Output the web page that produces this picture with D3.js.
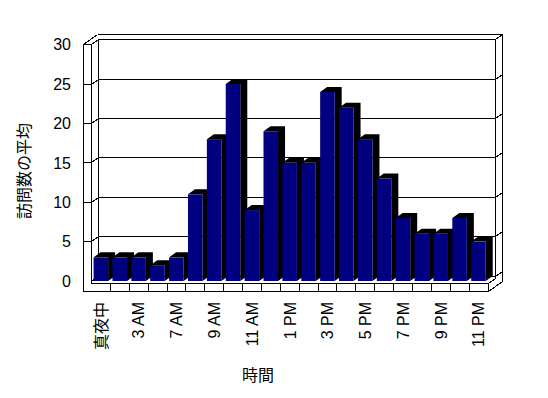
<!DOCTYPE html>
<html>
<head>
<meta charset="utf-8">
<script src="https://cdn.jsdelivr.net/npm/d3@7"></script>
<style>
body { margin: 0; background: #fff; }
svg text { font-family: "Liberation Sans", Arial, "Noto Sans CJK JP", sans-serif; fill: #000; }
</style>
</head>
<body>
<svg width="548" height="398"></svg>
<script>
// hours (some hidden labels are guesses; only every other one is printed)
var hours = ["真夜中", "2 AM", "3 AM", "5 AM", "7 AM", "8 AM", "9 AM", "10 AM", "11 AM", "正午",
    "1 PM", "2 PM", "3 PM", "4 PM", "5 PM", "6 PM", "7 PM", "8 PM", "9 PM", "10 PM", "11 PM"];
var visits = [3, 3, 3, 2, 3, 11, 18, 25, 9, 19, 15, 15, 24, 22, 18, 13, 8, 6, 6, 8, 5];
var yTicks = [0, 5, 10, 15, 20, 25, 30];
var yTitle = "訪問数の平均";
var xTitle = "時間";

var svg = d3.select("svg");
var dx = 7, dy = -5;               // depth offset
var wallX = 83.5, floorY = 291.5;  // outer slab edges

var x = d3.scaleBand().domain(hours).range([91.5, 488]);
var y = d3.scaleLinear().domain([0, 30]).range([281, 44.6]);

var g = svg.append("g").attr("fill", "none").attr("stroke", "#000").attr("stroke-width", 1)
    .attr("shape-rendering", "crispEdges");
function line(pts) {
    g.append("path").attr("d", d3.line()(pts.map(function (p) {
        return [Math.round(p[0] - 0.5) + 0.5, Math.round(p[1] - 0.5) + 0.5];
    })));
}
var x0 = x.range()[0], x1 = x.range()[1];
var yTop = y(30);

// left wall
line([[wallX, yTop], [wallX, floorY]]);
line([[x0, yTop], [x0, 283]]);
line([[wallX, yTop], [x0, yTop]]);
line([[wallX, yTop], [wallX + 2 * dx, yTop + 2 * dy]]);
line([[x0, yTop], [x0 + dx, yTop + dy]]);
// back wall
line([[wallX + 2 * dx, yTop + 2 * dy], [x1 + 2 * dx, yTop + 2 * dy]]);
line([[x0 + dx, yTop + dy], [x0 + dx, y(0) + dy]]);
line([[x1 + dx, yTop + dy], [x1 + dx, 283 + dy]]);
line([[x1 + 2 * dx, yTop + 2 * dy], [x1 + 2 * dx, floorY + 2 * dy]]);

// gridlines
yTicks.forEach(function (v) {
    var yy = y(v);
    if (v > 0) line([[wallX, yy], [x0, yy]]);
    line([[x0, yy], [x0 + dx, yy + dy], [x1 + dx, yy + dy], [x1 + 2 * dx, yy + 2 * dy]]);
});

// floor slab
line([[x0, 283], [x1, 283], [x1 + dx, 283 + dy]]);
line([[wallX, floorY], [x1, floorY], [x1 + 2 * dx, floorY + 2 * dy]]);
line([[x1, 283], [x1, floorY]]);
hours.forEach(function (h, i) {
    if (i > 0) line([[x(h), 283], [x(h), floorY]]);
});

// bars
var bw = x.bandwidth();
var inset = bw * 0.11, fw = bw * 0.77;
var bars = svg.append("g").selectAll("g").data(visits).join("g");
bars.append("path")
    .attr("fill", "#000")
    .attr("d", function (d, i) {
        var bx = x(hours[i]) + inset, by = y(d), bb = y(0);
        return d3.line()([[bx, by], [bx + dx, by + dy], [bx + fw + dx, by + dy],
            [bx + fw + dx, bb + dy], [bx + fw, bb], [bx + fw, by]]) + "Z";
    });
bars.append("rect")
    .attr("fill", "#000080")
    .attr("x", function (d, i) { return x(hours[i]) + inset; })
    .attr("y", function (d) { return y(d); })
    .attr("width", fw)
    .attr("height", function (d) { return y(0) - y(d); });

// y tick labels
svg.append("g").selectAll("text").data(yTicks).join("text")
    .attr("x", 71)
    .attr("y", function (d) { return y(d); })
    .attr("dy", "0.36em")
    .attr("text-anchor", "end")
    .attr("font-size", 16)
    .text(function (d) { return d; });

// x labels, every other hour
svg.append("g").selectAll("text").data(hours.filter(function (h, i) { return i % 2 === 0; })).join("text")
    .attr("transform", function (d) { return "translate(" + (x(d) + bw / 2) + ",302) rotate(-90)"; })
    .attr("dy", "0.36em")
    .attr("text-anchor", "end")
    .attr("font-size", 16)
    .text(function (d) { return d; });

svg.append("text")
    .attr("transform", "translate(24,171) rotate(-90)")
    .attr("dy", "0.36em")
    .attr("text-anchor", "middle")
    .attr("font-size", 16)
    .text(yTitle);

svg.append("text")
    .attr("x", 258)
    .attr("y", 375)
    .attr("dy", "0.36em")
    .attr("text-anchor", "middle")
    .attr("font-size", 16)
    .text(xTitle);
</script>
</body>
</html>
